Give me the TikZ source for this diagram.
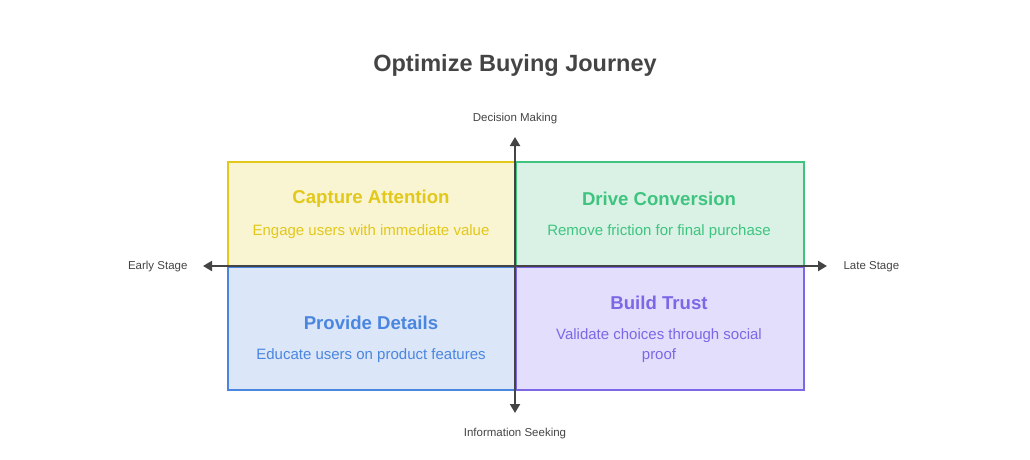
\documentclass[tikz,border=0pt]{standalone}
\usepackage{fontspec}
\setmainfont{Liberation Sans}
\usetikzlibrary{arrows.meta}
\definecolor{axisc}{HTML}{444444}
\definecolor{yb}{HTML}{E2C81B}\definecolor{yf}{HTML}{F9F4D1}
\definecolor{gb}{HTML}{3EC47F}\definecolor{gf}{HTML}{D9F2E5}
\definecolor{bb}{HTML}{4A86E0}\definecolor{bf}{HTML}{DBE6F8}
\definecolor{pb}{HTML}{7B68E6}\definecolor{pf}{HTML}{E3DEFC}
\begin{document}
\begin{tikzpicture}[x=1pt,y=-1pt,
  quad/.style={draw=#1b,fill=#1f,line width=2pt,minimum width=288pt,inner sep=0pt,anchor=north west},
  head/.style={font=\fontsize{18.6}{21}\selectfont\bfseries,text=#1},
  body/.style={font=\fontsize{15}{20}\selectfont,text=#1,align=center},
  axlabel/.style={font=\fontsize{11.5}{14}\selectfont,text=axisc},
  axis/.style={draw=axisc,line width=2pt,-{Triangle[length=9pt,width=10pt]}}]
\useasboundingbox (0,0) rectangle (1030,460);
\node[font=\fontsize{23.5}{26}\selectfont\bfseries,text=axisc] (title) at (515,65) {Optimize Buying Journey};
\node[quad=y,minimum height=105pt] (q1) at (227,161) {};
\node[quad=g,minimum height=105pt] (q2) at (515,161) {};
\node[quad=b,minimum height=123pt] (q3) at (227,266) {};
\node[quad=p,minimum height=123pt] (q4) at (515,266) {};
\node[head=yb] (h1) at (371,199) {Capture Attention};
\node[body=yb] (b1) at (371,232) {Engage users with immediate value};
\node[head=gb] (h2) at (659,199) {Drive Conversion};
\node[body=gb] (b2) at (659,232) {Remove friction for final purchase};
\node[head=bb] (h3) at (371,323) {Provide Details};
\node[body=bb] (b3) at (371,356) {Educate users on product features};
\node[head=pb] (h4) at (659,303) {Build Trust};
\node[body=pb] (b4) at (659,346) {Validate choices through social\\proof};
\coordinate (c) at (515,266);
\coordinate (l) at (203,266);
\coordinate (r) at (827,266);
\coordinate (t) at (515,137);
\coordinate (d) at (515,413);
\draw[axis] (c) -- (l);
\draw[axis] (c) -- (r);
\draw[axis] (c) -- (t);
\draw[axis] (c) -- (d);
\node[axlabel,anchor=east] (el) at (191,267) {Early Stage};
\node[axlabel,anchor=west] (ll) at (840,267) {Late Stage};
\node[axlabel] (dm) at (515,119) {Decision Making};
\node[axlabel] (is) at (515,434) {Information Seeking};
\end{tikzpicture}
\end{document}
